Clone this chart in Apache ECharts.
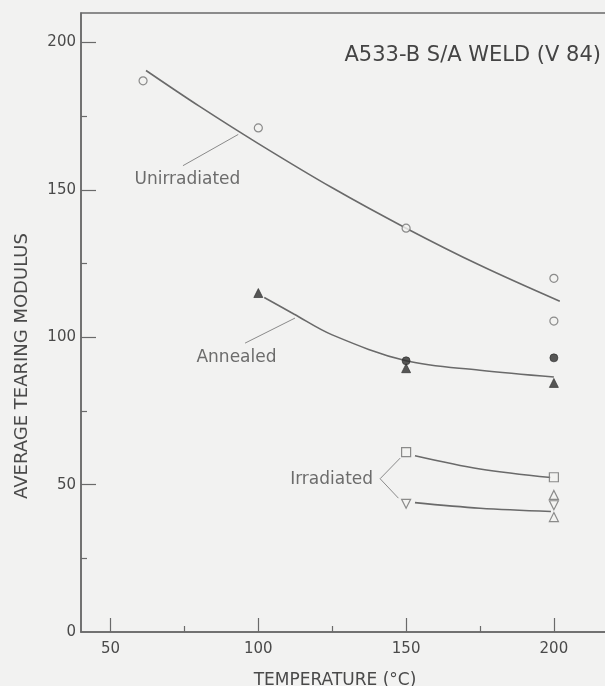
<!DOCTYPE html>
<html>
<head>
<meta charset="utf-8">
<script src="https://cdn.jsdelivr.net/npm/echarts@6/dist/echarts.min.js"></script>
<style>
html,body{margin:0;padding:0;background:#f2f2f1;}
#chart{width:605px;height:686px;}
</style>
</head>
<body>
<div id="chart"></div>
<script>
// ---- Data ----
const titleText = 'A533-B S/A WELD (V 84)';
const xAxisTitle = 'TEMPERATURE (°C)';
const yAxisTitle = 'AVERAGE TEARING MODULUS';

const xTickLabels = [50, 100, 150, 200];
const xMinorTicks = [75, 125, 175];
const yTickLabels = [0, 50, 100, 150, 200];
const yMajorTicks = [50, 100, 150, 200];
const yMinorTicks = [25, 75, 125, 175];

// measured points
const unirradiatedPts = [[61, 187], [100, 171], [150, 137], [200, 120], [200, 105.5]];
const annealedTriPts = [[100, 115], [150, 89.5], [200, 84.5]];
const annealedCirPts = [[150, 92], [200, 93]];
const irradSquarePts = [[150, 61], [200, 52.5]];
const irradDownTriPts = [[150, 43.5], [200, 43]];
const irradUpTriPts = [[200, 46.5], [200, 39]];

// hand-drawn trend curves
const unirrCurveX = [62, 80, 100, 125, 150, 175, 202];
const unirrCurveY = [190.5, 178.4, 165.7, 150.7, 137, 124.4, 112.2];
const annealCurveX = [102, 112, 125, 150, 175, 200];
const annealCurveY = [113.5, 107.9, 100.8, 92, 88.8, 86.5];
const irrUpperCurveX = [153, 175, 199];
const irrUpperCurveY = [59.8, 55.3, 52.4];
const irrLowerCurveX = [153, 175, 199];
const irrLowerCurveY = [43.9, 42, 40.9];

// label leader lines
const unirrLeader = [[93.2, 168.8], [74.5, 158.2]];
const annealLeader = [[112.4, 106.5], [95.5, 98.0]];
const irradLeader = [[148, 59], [141.2, 52.0], [147.4, 45.4]];

// curve labels
const curveLabels = ['Unirradiated', 'Annealed', 'Irradiated'];
const curveLabelPos = [[76.0, 153.5], [92.6, 93.2], [124.8, 51.8]];

// ---- Chart ----
const zip = (xs, ys) => xs.map((x, i) => [x, ys[i]]);
const ink = '#4a4a4a';
const lineInk = '#6a6a6a';
const font = 'DejaVu Sans';

const chart = echarts.init(document.getElementById('chart'), null, {renderer: 'canvas'});

function fitLine(name, data) {
  return {
    name, type: 'line', data, smooth: 0.35, showSymbol: false, symbol: 'none',
    lineStyle: {color: lineInk, width: 1.6}, silent: true, z: 2
  };
}
function leader(name, data) {
  return {
    name, type: 'line', data, smooth: false, showSymbol: false, symbol: 'none',
    lineStyle: {color: '#8a8a8a', width: 1}, silent: true, z: 2
  };
}
function pts(name, data, symbol, filled, rotate) {
  return {
    name, type: 'scatter', data, symbol, symbolSize: symbol === 'circle' ? 8 : 9,
    symbolRotate: rotate || 0,
    itemStyle: filled ? {color: '#2e2e2e', borderColor: '#2e2e2e', borderWidth: 0.8}
                      : {color: '#f2f2f1', borderColor: '#707070', borderWidth: 1.2},
    z: 4
  };
}

const option = {
  backgroundColor: '#f2f2f1',
  animation: false,
  title: {
    text: titleText, right: 4, top: 45, padding: 0,
    textStyle: {fontFamily: font, fontSize: 21, fontWeight: 'normal', color: '#444'}
  },
  grid: {
    left: 81, top: 13, bottom: 54, right: -8,
    outerBoundsMode: 'none', containLabel: false,
    show: true, borderColor: lineInk, borderWidth: 1.5, backgroundColor: 'transparent'
  },
  xAxis: [
    {
      type: 'value', min: 40, max: 220, position: 'bottom',
      name: xAxisTitle, nameLocation: 'middle', nameGap: 40,
      nameTextStyle: {fontFamily: font, fontSize: 17, color: ink, padding: [0, 24, 0, 0]},
      axisLine: {show: true, lineStyle: {color: lineInk, width: 1.5}},
      axisTick: {show: true, inside: true, length: 14, customValues: xTickLabels, lineStyle: {color: lineInk, width: 1.2}},
      axisLabel: {show: true, customValues: xTickLabels, margin: 10, fontFamily: font, fontSize: 15, color: ink},
      splitLine: {show: false}
    },
    {
      type: 'value', min: 40, max: 220, position: 'bottom',
      axisLine: {show: false},
      axisTick: {show: true, inside: true, length: 6, customValues: xMinorTicks, lineStyle: {color: lineInk, width: 1.2}},
      axisLabel: {show: false},
      splitLine: {show: false}
    }
  ],
  yAxis: [
    {
      type: 'value', min: 0, max: 210, position: 'left',
      axisLine: {show: true, lineStyle: {color: lineInk, width: 1.5}},
      axisTick: {show: true, inside: true, length: 15, customValues: yMajorTicks, lineStyle: {color: lineInk, width: 1.2}},
      axisLabel: {show: true, customValues: yTickLabels, margin: 5, fontFamily: font, fontSize: 15, color: ink},
      splitLine: {show: false}
    },
    {
      type: 'value', min: 0, max: 210, position: 'left', offset: 0,
      axisLine: {show: false},
      axisTick: {show: true, inside: true, length: 6, customValues: yMinorTicks, lineStyle: {color: lineInk, width: 1.2}},
      axisLabel: {show: false},
      splitLine: {show: false}
    }
  ],
  graphic: [
    {
      type: 'text', x: 22, y: 366, rotation: Math.PI / 2,
      style: {text: yAxisTitle, fontFamily: font, fontSize: 18, fill: ink, align: 'center', verticalAlign: 'middle'}
    }
  ],
  series: [
    fitLine('Unirradiated fit', zip(unirrCurveX, unirrCurveY)),
    fitLine('Annealed fit', zip(annealCurveX, annealCurveY)),
    fitLine('Irradiated fit (upper)', zip(irrUpperCurveX, irrUpperCurveY)),
    fitLine('Irradiated fit (lower)', zip(irrLowerCurveX, irrLowerCurveY)),
    leader('Unirradiated leader', unirrLeader),
    leader('Annealed leader', annealLeader),
    leader('Irradiated leader', irradLeader),
    pts('Unirradiated', unirradiatedPts, 'circle', false),
    pts('Annealed (triangle)', annealedTriPts, 'triangle', true),
    pts('Annealed (circle)', annealedCirPts, 'circle', true),
    pts('Irradiated (square)', irradSquarePts, 'rect', false),
    pts('Irradiated (down triangle)', irradDownTriPts, 'triangle', false, 180),
    pts('Irradiated (up triangle)', irradUpTriPts, 'triangle', false),
    {
      name: 'Curve labels', type: 'scatter', symbolSize: 0, silent: true,
      data: curveLabels.map((n, i) => ({name: n, value: curveLabelPos[i]})),
      label: {
        show: true, position: 'inside', formatter: p => p.name,
        fontFamily: font, fontSize: 17, color: ink
      },
      z: 5
    }
  ]
};
chart.setOption(option);
</script>
</body>
</html>
